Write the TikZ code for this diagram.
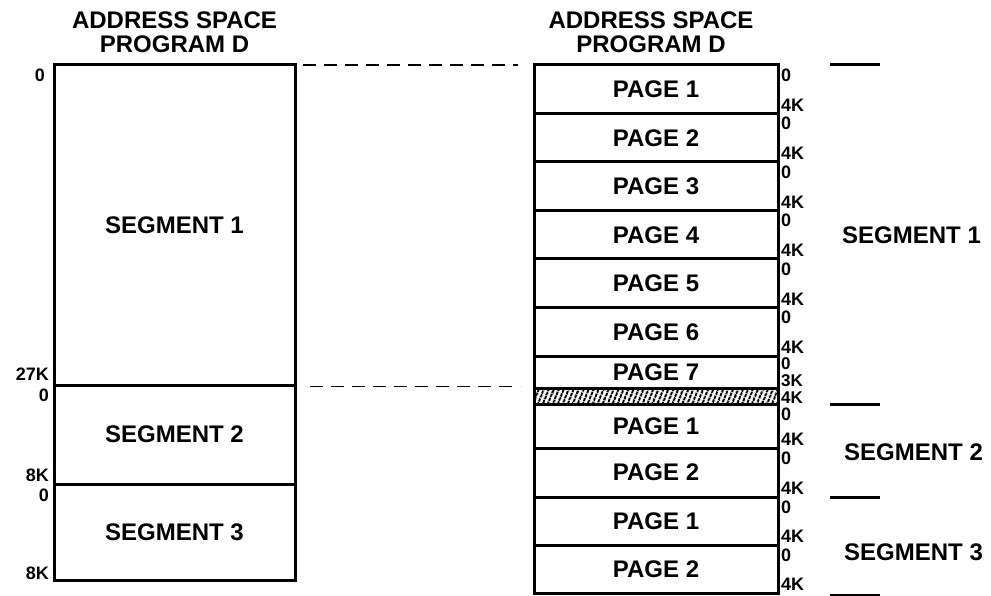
\documentclass[tikz,border=0pt]{standalone}
\usepackage{fontspec}
\setmainfont{Liberation Sans}
\usetikzlibrary{positioning, patterns.meta}
\newcommand\lblfont{\fontsize{24}{24}\selectfont\bfseries}
\newcommand\offfont{\fontsize{18}{18}\selectfont\bfseries}
\newcommand\tightfont{\fontsize{17}{17}\selectfont\bfseries}
\tikzset{
  segbox/.style={rectangle, draw, line width=3pt, outer sep=0pt, inner sep=0pt, minimum width=241, font=\lblfont},
  pagebox/.style={rectangle, draw, line width=3pt, outer sep=0pt, inner sep=0pt, minimum width=244, minimum height=48.5, font=\lblfont},
  header/.style={align=center, inner sep=0pt, font=\lblfont},
  segname/.style={anchor=west, inner sep=0pt, font=\lblfont},
  offset/.style={font=\offfont, inner sep=0pt, text height=13pt, text depth=0pt},
  offtop/.style={offset, anchor=north west, xshift=3pt, yshift=-3pt},
  offbot/.style={offset, anchor=south west, xshift=3pt, yshift=2pt},
  guide/.style={line width=1.4pt, dash pattern=on 13pt off 8pt},
  segmark/.style={line width=3pt}
}
\begin{document}
\begin{tikzpicture}[x=1pt, y=-1pt]
  \useasboundingbox (0,0) rectangle (991,596);

  % Programm D als drei Segmente
  \node[segbox, minimum height=320] (seg1) at (174.5,225) {SEGMENT 1};
  \node[segbox, minimum height=99, below=0pt of seg1] (seg2) {SEGMENT 2};
  \node[segbox, minimum height=96, below=0pt of seg2] (seg3) {SEGMENT 3};
  \node[header, above=12pt of seg1] (hdl) {ADDRESS SPACE\\PROGRAM D};

  % Adressen links
  \node[offset, anchor=north east, xshift=-9pt, yshift=-3pt] (a0) at (seg1.north west) {0};
  \node[offset, anchor=south east, xshift=-5pt, yshift=4pt] (a27) at (seg1.south west) {27K};
  \node[offset, anchor=north east, xshift=-5pt, yshift=-3pt] (b0) at (seg2.north west) {0};
  \node[offset, anchor=south east, xshift=-5pt, yshift=2pt] (b8) at (seg2.south west) {8K};
  \node[offset, anchor=north east, xshift=-5pt, yshift=-4pt] (c0) at (seg3.north west) {0};
  \node[offset, anchor=south east, xshift=-5pt, yshift=0pt] (c8) at (seg3.south west) {8K};

  % Seiten des Segments 1
  \node[pagebox] (s1p1) at (656,89.25) {PAGE 1};
  \foreach \i [remember=\i as \j (initially 1)] in {2,...,6}
    \node[pagebox, below=0pt of s1p\j] (s1p\i) {PAGE \i};
  \node[pagebox, minimum height=32, below=0pt of s1p6] (s1p7) {PAGE 7};
  \node[pagebox, minimum height=16, below=0pt of s1p7,
        pattern={Lines[angle=68, distance=4pt, line width=2.2pt]}] (hatch) {};
  % Segmente 2 und 3
  \node[pagebox, minimum height=44, below=0pt of hatch] (s2p1) {PAGE 1};
  \node[pagebox, minimum height=49, below=0pt of s2p1] (s2p2) {PAGE 2};
  \node[pagebox, minimum height=48, below=0pt of s2p2] (s3p1) {PAGE 1};
  \node[pagebox, minimum height=48, below=0pt of s3p1] (s3p2) {PAGE 2};
  \node[header, above=12pt of s1p1, xshift=-5pt] (hdr) {ADDRESS SPACE\\PROGRAM D};

  % Adressen innerhalb der Seiten
  \foreach \p in {s1p1,s1p2,s1p3,s1p4,s1p5,s1p6,s2p1,s2p2,s3p1,s3p2} {
    \node[offtop] (\p top) at (\p.north east) {0};
    \node[offbot] (\p bot) at (\p.south east) {4K};
  }
  \node[offtop, font=\tightfont, text height=12pt, yshift=2pt] (s1p7top) at (s1p7.north east) {0};
  \node[offbot, font=\tightfont, text height=12pt, yshift=-1pt] (s1p7bot) at (s1p7.south east) {3K};
  \node[offbot, font=\tightfont, text height=12pt, yshift=-1.5pt] (hatchbot) at (hatch.south east) {4K};

  % Verbindungslinien
  \draw[guide, shorten <=8pt, shorten >=16pt] (seg1.north east) -- (s1p1.north west);
  \draw[guide, shorten <=15pt, shorten >=14pt] ([yshift=-1.5pt]seg1.south east) -- ([yshift=-1.5pt]seg1.south east -| hatch.west);

  % Segmentgrenzen rechts
  \coordinate (m1) at ([xshift=52pt]s1p1.north east);
  \coordinate (m2) at ([xshift=52pt]hatch.south east);
  \coordinate (m3) at ([xshift=52pt]s2p2.south east);
  \coordinate (m4) at ([xshift=52pt, yshift=-2pt]s3p2.south east);
  \foreach \m in {m1,m2,m3,m4}
    \draw[segmark] (\m) -- ++(50,0);
  \node[segname, right=64pt of s1p4] (n1) {SEGMENT 1};
  \node[segname] (n2) at (844,452) {SEGMENT 2};
  \node[segname] (n3) at (844,552) {SEGMENT 3};
\end{tikzpicture}
\end{document}
